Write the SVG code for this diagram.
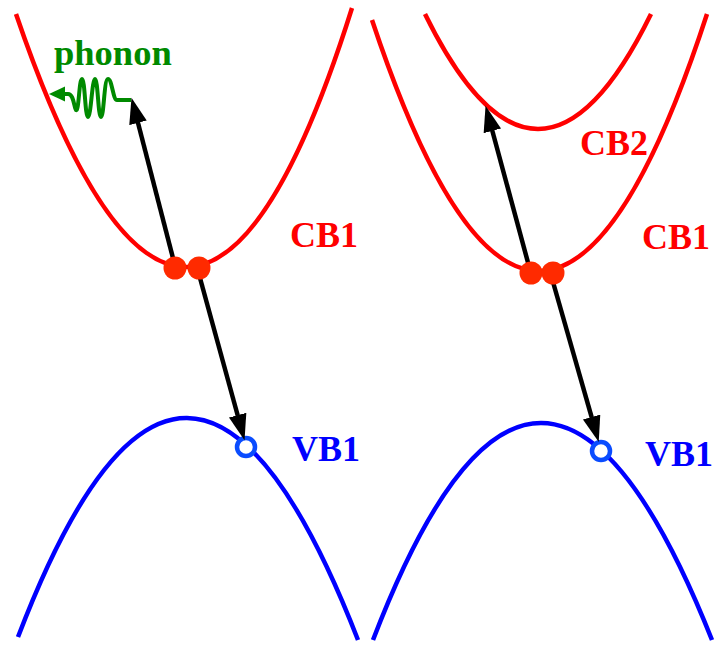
<svg xmlns="http://www.w3.org/2000/svg" width="716" height="645" viewBox="0 0 716 645">
<style>
.cb{fill:none;stroke:#ff0000;stroke-width:4.5}
.vb{fill:none;stroke:#0000ff;stroke-width:4.5}
.el{fill:#ff2a00}
.hole{fill:#ffffff;stroke:#0a4cff;stroke-width:4.5}
.arr{fill:none;stroke:#000000;stroke-width:4.5}
.ph{fill:none;stroke:#008a00;stroke-width:4;stroke-linejoin:round}
.lbl{font-family:"Liberation Serif","Times New Roman",serif;font-weight:bold;font-size:36px}
.red{fill:#ff0000}
.blue{fill:#0000ff}
.green{fill:#008a00}
</style>
<defs>
<marker id="ah" markerUnits="userSpaceOnUse" markerWidth="28" markerHeight="20" viewBox="0 0 28 20" refX="4" refY="9" orient="auto">
<path d="M0,0 L26,9 L0,18 z" fill="#000000"/>
</marker>
<marker id="gh" markerUnits="userSpaceOnUse" markerWidth="18" markerHeight="16" viewBox="0 0 18 16" refX="1" refY="7.5" orient="auto">
<path d="M0,0 L16,7.5 L0,15 z" fill="#008a00"/>
</marker>
</defs>
<g id="left-CB1"><path class="cb" d="M16,14 Q190,523 352,8"/></g>
<g id="left-VB1"><path class="vb" d="M18,637 Q186,197.5 358,640"/></g>
<g id="right-CB1"><path class="cb" d="M372,20 Q540.5,525 707,14"/></g>
<g id="right-CB2"><path class="cb" d="M425,14 Q538,244 651,14"/></g>
<g id="right-VB1"><path class="vb" d="M373,640 Q539.5,206 712,640"/></g>
<g id="left-hole"><circle class="hole" cx="246" cy="447" r="9"/></g>
<g id="right-hole"><circle class="hole" cx="601" cy="451" r="9"/></g>
<g id="connectors">
<line class="arr" x1="174" y1="262" x2="137" y2="119" marker-end="url(#ah)"/>
<line class="arr" x1="200" y1="278" x2="238.7" y2="419" marker-end="url(#ah)"/>
<line class="arr" x1="530" y1="270" x2="491.3" y2="127" marker-end="url(#ah)"/>
<line class="arr" x1="553" y1="282" x2="592.7" y2="420.9" marker-end="url(#ah)"/>
<path class="ph" d="M131,100 H117 C113,100 112,79 108,79 C104,79 104,117 101,117 C98,117 98,79 95,79 C92,79 91,117 88,117 C85,117 85,79 82,79 C79,79 79,112 76,110 C74,108 74,94 68,94 L64,94" marker-end="url(#gh)"/>
</g>
<g id="left-electrons"><circle class="el" cx="175" cy="268" r="11.5"/><circle class="el" cx="199" cy="268" r="11.5"/></g>
<g id="right-electrons"><circle class="el" cx="531" cy="273" r="11.5"/><circle class="el" cx="553" cy="273" r="11.5"/></g>
<g id="labels">
<text class="lbl green" x="54" y="65" style="font-size:36.5px">phonon</text>
<text class="lbl red" x="290" y="247">CB1</text>
<text class="lbl blue" x="292" y="461">VB1</text>
<text class="lbl red" x="580" y="155">CB2</text>
<text class="lbl red" x="642" y="249">CB1</text>
<text class="lbl blue" x="645" y="466">VB1</text>
</g>
</svg>
